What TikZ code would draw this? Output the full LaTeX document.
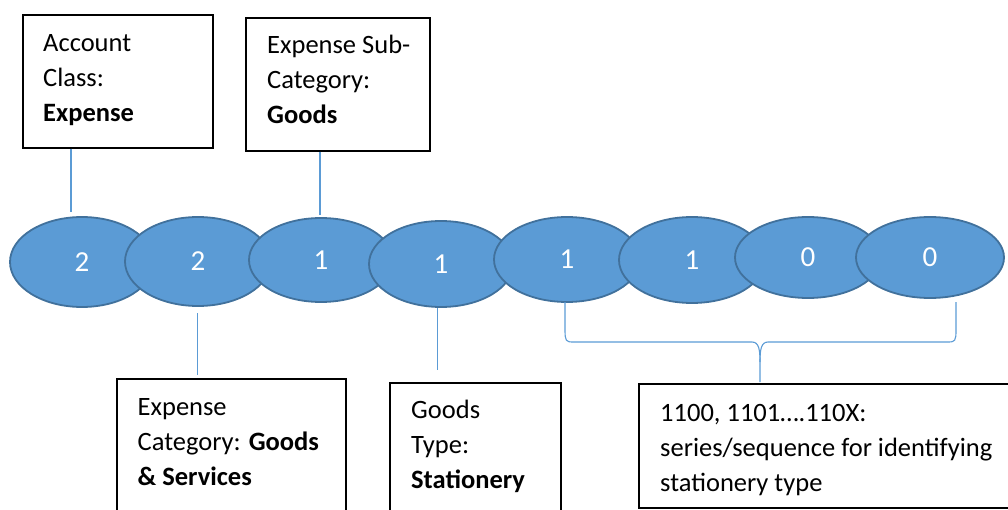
\documentclass[tikz,border=0pt]{standalone}
\usepackage{fontspec}
\setmainfont{Carlito}
\usetikzlibrary{shapes.geometric}
\definecolor{ellfill}{HTML}{5B9BD5}
\definecolor{elldraw}{HTML}{41719C}
\definecolor{conn}{HTML}{5B9BD5}
\tikzset{
  digit/.style={ellipse, fill=ellfill, draw=elldraw, line width=1.8pt, inner sep=0pt,
    text=white, font=\fontsize{29}{32}\selectfont},
  infobox/.style={draw=black, line width=1.1pt, inner sep=0pt},
  infotext/.style={anchor=base west, align=left, inner sep=0pt, font=\fontsize{26.5}{35}\selectfont},
  connector/.style={draw=conn, line width=1.1pt}
}
\begin{document}
\begin{tikzpicture}[x=1pt,y=-1pt]
\useasboundingbox (0,0) rectangle (1008,510);
% boxes
\node[infobox, minimum width=190pt, minimum height=133pt] (box1) at (118,81.5) {};
\node[infotext] (t1) at (43,122) {Account\\Class:\\\textbf{Expense}};
\node[infobox, minimum width=184pt, minimum height=133pt] (box2) at (338,84.5) {};
\node[infotext] (t2) at (267,124) {Expense Sub-\\Category:\\\textbf{Goods}};
\node[infobox, minimum width=229pt, minimum height=150pt] (box3) at (231.5,454) {};
\node[infotext] (t3) at (137.5,485) {Expense\\Category: \textbf{Goods}\\\textbf{\& Services}};
\node[infobox, minimum width=171pt, minimum height=146pt] (box4) at (475.5,456) {};
\node[infotext] (t4) at (411,488) {Goods\\Type:\\\textbf{Stationery}};
\node[infobox, minimum width=375pt, minimum height=124pt] (box5) at (826.5,446) {};
\node[infotext] (t5) at (660,491) {1100, 1101….110X:\\series/sequence for identifying\\stationery type};
% ellipses
\node[digit, minimum width=144pt, minimum height=90pt] (e1) at (82,262) {2};
\node[digit, minimum width=146pt, minimum height=89pt] (e2) at (198,261.5) {2};
\node[digit, minimum width=144pt, minimum height=84pt] (e3) at (321,260) {1};
\node[digit, minimum width=144pt, minimum height=86pt] (e4) at (441,264) {1};
\node[digit, minimum width=146pt, minimum height=85pt] (e5) at (567,259.5) {1};
\node[digit, minimum width=146pt, minimum height=86pt] (e6) at (692,260) {1};
\node[digit, minimum width=146pt, minimum height=81pt] (e7) at (808,257.5) {0};
\node[digit, minimum width=148pt, minimum height=81pt] (e8) at (930,257.5) {0};
% connectors
\coordinate (c1) at (71,212);
\coordinate (c2) at (320,215);
\coordinate (c3) at (197.5,313);
\coordinate (c3b) at (197.5,375);
\coordinate (c4) at (437.5,308);
\coordinate (c4b) at (437.5,370);
\draw[connector] (box1.south -| c1) -- (c1);
\draw[connector] (box2.south -| c2) -- (c2);
\draw[connector] (c3) -- (c3b);
\draw[connector] (c4) -- (c4b);
% brace
\coordinate (bl) at (565,302);
\coordinate (br) at (956,302);
\coordinate (bt) at (760,382);
\draw[connector] (bl) -- (565,330) .. controls (565,341) and (566,342) .. (573,342)
  -- (752,342) .. controls (759,342) and (760,350) .. (760,362) -- (bt);
\draw[connector] (760,362) .. controls (760,350) and (761,342) .. (768,342)
  -- (948,342) .. controls (955,342) and (956,341) .. (956,330) -- (br);
\end{tikzpicture}
\end{document}
